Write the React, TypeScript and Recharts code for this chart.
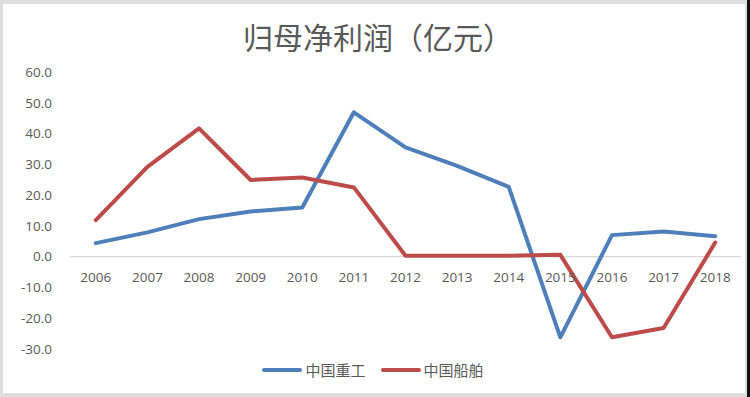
import React from "react";
import { LineChart, Line, XAxis, YAxis, ReferenceLine } from "recharts";

const years = ["2006", "2007", "2008", "2009", "2010", "2011", "2012", "2013", "2014", "2015", "2016", "2017", "2018"];
const zhongguoZhonggong = [4.4, 7.9, 12.2, 14.7, 16.0, 46.9, 35.5, 29.5, 22.7, -26.2, 7.0, 8.2, 6.6];
const zhongguoChuanbo = [11.9, 29.2, 41.7, 24.9, 25.7, 22.5, 0.3, 0.3, 0.3, 0.6, -26.2, -23.2, 4.6];
const yTicks = [-30, -20, -10, 0, 10, 20, 30, 40, 50, 60];

const series = [
  { key: "zg", name: "中国重工", color: "#4F7FBA", values: zhongguoZhonggong },
  { key: "cb", name: "中国船舶", color: "#BD4B49", values: zhongguoChuanbo },
];

const data = years.map((y, i) => {
  const row: any = { year: y };
  series.forEach((s) => (row[s.key] = s.values[i]));
  return row;
});

const W = 750;
const H = 397;
const PLOT_TOP = 72;
const PLOT_BOTTOM = 349;
const XAXIS_H = 2;
const Y_MIN = -30;
const Y_MAX = 60;
const ZERO_Y = PLOT_TOP + ((PLOT_BOTTOM - PLOT_TOP) * Y_MAX) / (Y_MAX - Y_MIN);

const renderXTick = (props: any) => {
  const { x, payload } = props;
  return (
    <text x={x} y={ZERO_Y + 25} textAnchor="middle" fill="#595959" fontSize={13.5} fontFamily="'Open Sans', 'Noto Sans', sans-serif">
      {payload.value}
    </text>
  );
};

export default function App() {
  return (
    <div style={{ position: "absolute", left: 0, top: 0, width: W, height: H, background: "#dedede", overflow: "hidden" }}>
      <div style={{ position: "absolute", left: 3, top: 4, width: 742, height: 389, background: "#ffffff" }} />
      <div style={{ position: "absolute", left: 747, top: 0, width: 3, height: H, background: "#111" }} />
      <div
        style={{
          position: "absolute",
          left: 0,
          top: 16,
          width: 756,
          textAlign: "center",
          fontFamily: "'Noto Sans CJK SC', sans-serif",
          fontSize: 30,
          lineHeight: "40px",
          color: "#595959",
        }}
      >
        归母净利润（亿元）
      </div>
      <div style={{ position: "absolute", left: 0, top: 0 }}>
        <LineChart width={W} height={H} data={data} margin={{ top: PLOT_TOP, right: 9, bottom: H - PLOT_BOTTOM - XAXIS_H, left: 0 }}>
          <XAxis
            dataKey="year"
            axisLine={false}
            tickLine={false}
            height={XAXIS_H}
            interval={0}
            padding={{ left: 25.8, right: 25.8 }}
            tick={renderXTick}
          />
          <YAxis
            domain={[Y_MIN, Y_MAX]}
            ticks={yTicks}
            width={70}
            axisLine={false}
            tickLine={false}
            tickMargin={12}
            interval={0}
            tickFormatter={(v: number) => v.toFixed(1)}
            tick={{ fill: "#595959", fontSize: 13.5, fontFamily: "'Open Sans', 'Noto Sans', sans-serif" }}
          />
          <ReferenceLine y={0} stroke="#d9d9d9" strokeWidth={1.2} />
          {series.map((s) => (
            <Line
              key={s.key}
              dataKey={s.key}
              name={s.name}
              stroke={s.color}
              strokeWidth={4}
              dot={false}
              activeDot={false}
              strokeLinecap="round"
              strokeLinejoin="round"
              isAnimationActive={false}
            />
          ))}
        </LineChart>
      </div>
      <div
        style={{
          position: "absolute",
          left: 0,
          top: 358,
          width: W - 4,
          display: "flex",
          justifyContent: "center",
          alignItems: "center",
          fontFamily: "'Noto Sans CJK SC', sans-serif",
          fontSize: 15,
          lineHeight: "24px",
          color: "#595959",
        }}
      >
        {series.map((s, i) => (
          <div key={s.key} style={{ display: "flex", alignItems: "center", marginLeft: i === 0 ? 0 : 15 }}>
            <div style={{ width: 40, height: 4, background: s.color, borderRadius: 2, marginRight: 3 }} />
            <span>{s.name}</span>
          </div>
        ))}
      </div>
    </div>
  );
}
